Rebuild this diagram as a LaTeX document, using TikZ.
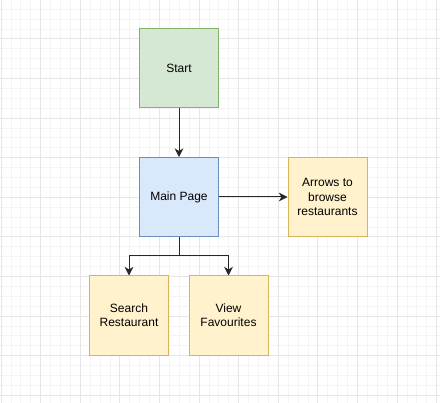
\documentclass[tikz,border=0pt]{standalone}
\usepackage{fontspec}
\setmainfont{Liberation Sans}
\usetikzlibrary{arrows.meta}
\definecolor{gminor}{HTML}{F4F4F4}
\definecolor{gmajor}{HTML}{E6E6E6}
\definecolor{greenfill}{HTML}{D5E8D4}
\definecolor{greenline}{HTML}{82B366}
\definecolor{bluefill}{HTML}{DAE8FC}
\definecolor{blueline}{HTML}{6C8EBF}
\definecolor{yelfill}{HTML}{FFF2CC}
\definecolor{yelline}{HTML}{D6B656}
\tikzset{
  box/.style={draw, line width=0.75pt, minimum width=59.25pt, minimum height=59.25pt,
    inner sep=0pt, align=center, font=\fontsize{9}{10.7}\selectfont, text=black},
  greenbox/.style={box, fill=greenfill, draw=greenline},
  bluebox/.style={box, fill=bluefill, draw=blueline},
  yelbox/.style={box, fill=yelfill, draw=yelline},
  arr/.style={draw=black!85, line width=0.75pt, -{Stealth[length=6.5pt,width=6.5pt,inset=2pt]}},
}
\begin{document}
\begin{tikzpicture}[x=0.75pt,y=-0.75pt]
\useasboundingbox[fill=white] (0,0) rectangle (440,403);
% minor grid
\foreach \i in {-4,...,45} {
  \draw[gminor, line width=0.75pt] ({1.1+9.9*\i},0) -- ({1.1+9.9*\i},403);
  \draw[gminor, line width=0.75pt] (0,{-0.6+9.9*\i}) -- (440,{-0.6+9.9*\i});
}
% major grid
\foreach \i in {0,...,11} {
  \draw[gmajor, line width=0.75pt] ({1.1+39.6*\i},0) -- ({1.1+39.6*\i},403);
  \draw[gmajor, line width=0.75pt] (0,{-0.6+39.6*\i}) -- (440,{-0.6+39.6*\i});
}
\node[greenbox] (start) at (179,68) {Start};
\node[bluebox] (main) at (179,197) {Main Page};
\node[yelbox] (browse) at (327.5,197) {Arrows to\\browse\\restaurants};
\node[yelbox] (search) at (129,315.5) {Search\\Restaurant};
\node[yelbox] (fav) at (228.5,315.5) {View\\Favourites};
\draw[arr] (start) -- (main);
\draw[arr] (main) -- (browse);
\draw[arr] (main.south) -- ++(0,19) -| (search.north);
\draw[arr] (main.south) -- ++(0,19) -| (fav.north);
\end{tikzpicture}
\end{document}
